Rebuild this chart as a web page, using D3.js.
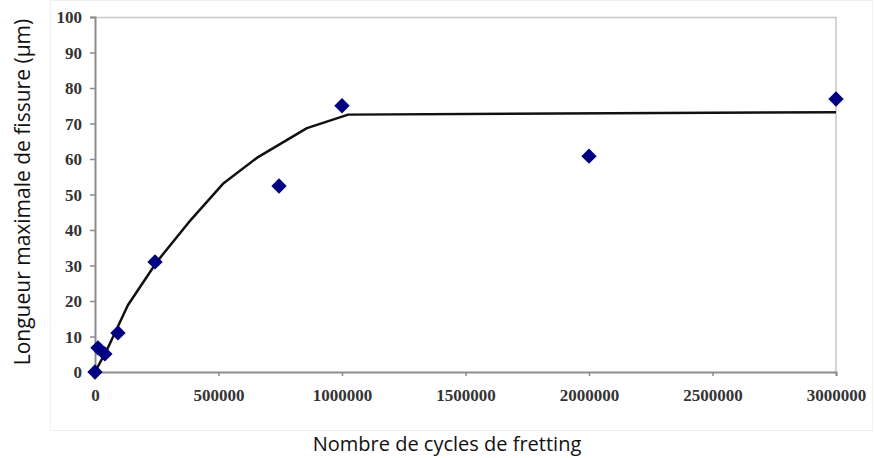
<!DOCTYPE html>
<html>
<head>
<meta charset="utf-8">
<script src="https://cdn.jsdelivr.net/npm/d3@7"></script>
<style>
  body { margin: 0; background: #fff; }
  .tick text { font-family: "Liberation Serif", serif; font-weight: bold; fill: #333; }
  .axisLabel { font-family: "Open Sans", sans-serif; fill: #111; }
</style>
</head>
<body>
<div id="wrapper"></div>
<script>
'use strict';

// measured points (cycles, crack length in µm)
const cycles = [0, 12000, 40000, 93000, 243000, 745000, 1000000, 2000000, 3000000];
const crackLength = [0, 6.8, 5.1, 11, 31, 52.4, 75, 60.8, 76.9];

// trend curve
const curveCycles = [0, 50000, 133000, 250000, 380000, 518000, 655000, 858000, 1025000, 3000000];
const curveLength = [0, 6.5, 18.8, 31, 42.2, 53, 60.3, 68.7, 72.5, 73.2];

const xTicks = [0, 500000, 1000000, 1500000, 2000000, 2500000, 3000000];
const yTicks = [0, 10, 20, 30, 40, 50, 60, 70, 80, 90, 100];

const dataset = cycles.map((c, i) => ({x: c, y: crackLength[i]}));
const curveData = curveCycles.map((c, i) => ({x: c, y: curveLength[i]}));

const dimensions = {
  width: 874,
  height: 458,
  margin: {top: 17, right: 38, bottom: 86, left: 95}
};
dimensions.plotWidth = dimensions.width - dimensions.margin.left - dimensions.margin.right;
dimensions.plotHeight = dimensions.height - dimensions.margin.top - dimensions.margin.bottom;

const svg = d3.select('#wrapper').append('svg')
  .attr('width', dimensions.width)
  .attr('height', dimensions.height);

// faint chart-area frame
svg.append('rect')
  .attr('x', 50.5).attr('y', 0.5)
  .attr('width', 822).attr('height', 430)
  .attr('fill', 'none')
  .attr('stroke', '#f0f0f0');

const plot = svg.append('g')
  .attr('transform', `translate(${dimensions.margin.left},${dimensions.margin.top})`);

const xScale = d3.scaleLinear().domain([0, 3000000]).range([0, dimensions.plotWidth]);
const yScale = d3.scaleLinear().domain([0, 100]).range([dimensions.plotHeight, 0]);

// top & right border
plot.append('path')
  .attr('d', `M0,0.5H${dimensions.plotWidth}V${dimensions.plotHeight}`)
  .attr('fill', 'none')
  .attr('stroke', '#c8c8c8')
  .attr('stroke-width', 1.5);

const xAxis = plot.append('g')
  .attr('transform', `translate(0,${dimensions.plotHeight})`)
  .call(d3.axisBottom(xScale).tickValues(xTicks).tickFormat(d3.format('d')).tickSize(4).tickPadding(13));

const yAxis = plot.append('g')
  .call(d3.axisLeft(yScale).tickValues(yTicks).tickSize(5).tickPadding(8));

[xAxis, yAxis].forEach(a => {
  a.select('.domain').attr('stroke', '#8c8c8c').attr('stroke-width', 2);
  a.selectAll('.tick line').attr('stroke', '#8c8c8c').attr('stroke-width', 1.5);
  a.selectAll('.tick text').attr('font-size', 17);
});
yAxis.selectAll('.tick text').attr('dy', '0.35em');

// curve
const line = d3.line()
  .x(d => xScale(d.x))
  .y(d => yScale(d.y));

plot.append('path')
  .datum(curveData)
  .attr('d', line)
  .attr('fill', 'none')
  .attr('stroke', '#111')
  .attr('stroke-width', 2.5)
  .attr('stroke-linejoin', 'round');

// points
const diamond = d3.symbol().type(d3.symbolDiamond2).size(150);
plot.selectAll('.pt')
  .data(dataset)
  .join('path')
  .attr('class', 'pt')
  .attr('transform', d => `translate(${xScale(d.x)},${yScale(d.y)})`)
  .attr('d', diamond)
  .attr('fill', '#000080');

// axis titles
svg.append('text')
  .attr('class', 'axisLabel')
  .attr('x', 447)
  .attr('y', 451)
  .attr('text-anchor', 'middle')
  .attr('font-size', 20)
  .text('Nombre de cycles de fretting');

svg.append('text')
  .attr('class', 'axisLabel')
  .attr('transform', 'translate(30,192) rotate(-90)')
  .attr('text-anchor', 'middle')
  .attr('font-size', 21)
  .text('Longueur maximale de fissure (µm)');
</script>
</body>
</html>
